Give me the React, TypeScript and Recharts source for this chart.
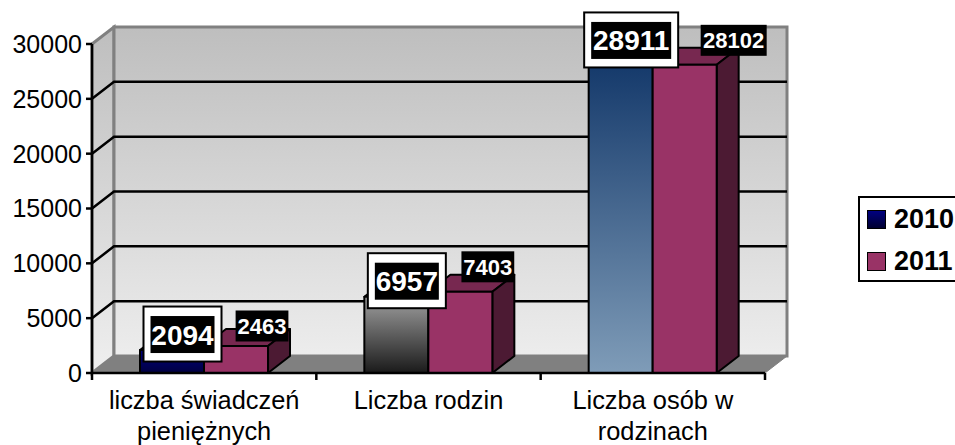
import React from 'react';
import { BarChart, Bar, XAxis, YAxis, ReferenceArea, LabelList, Legend } from 'recharts';

const categories = ['liczba świadczeń pieniężnych', 'Liczba rodzin', 'Liczba osób w rodzinach'];
const values2010 = [2094, 6957, 28911];
const values2011 = [2463, 7403, 28102];
const yTicks = [0, 5000, 10000, 15000, 20000, 25000, 30000];
const gridValues = [5000, 10000, 15000, 20000, 25000];

const chartData = categories.map((name, i) => ({ name, y2010: values2010[i], y2011: values2011[i] }));

const FONT = '"Liberation Sans", Arial, sans-serif';
const DX = 22;
const DY = 17;

// 3D look: every bar gets a front face, a top face and a side face
const make3dBar = (front: (i: number) => string, top: string, side: string) => (props: any) => {
  const { x, y, width, height, index } = props;
  const r = x + width;
  const b = y + height;
  return (
    <g stroke="#000" strokeWidth={2} strokeLinejoin="round">
      <polygon points={`${x},${y} ${x + DX},${y - DY} ${r + DX},${y - DY} ${r},${y}`} fill={top} />
      <polygon points={`${r},${y} ${r + DX},${y - DY} ${r + DX},${b - DY} ${r},${b}`} fill={side} />
      <rect x={x} y={y} width={width} height={height} fill={front(index)} />
    </g>
  );
};

const bar2010 = make3dBar((i) => `url(#fill2010-${i})`, '#33334d', '#1a1a33');
const bar2011 = make3dBar(() => '#993366', '#772850', '#4c1a33');

// box-in-box label for 2010, plain black tag for 2011
const label2010 = (props: any) => {
  const { x, y, width, value } = props;
  const cx = x + width / 2 + 10.5;
  const cy = y - 15.5;
  const text = String(value);
  const w = text.length * 16;
  return (
    <g>
      <rect x={cx - w / 2 - 7} y={cy - 28} width={w + 14} height={55} fill="#fff" stroke="#000" strokeWidth={2} />
      <rect x={cx - w / 2} y={cy - 18.5} width={w} height={37} fill="#000" />
      <text x={cx} y={cy + 10} textAnchor="middle" fontFamily={FONT} fontWeight="bold" fontSize={28} fill="#fff">
        {text}
      </text>
    </g>
  );
};

const tagNudge = [
  [26, -20],
  [27.5, -25],
  [49, -24.5],
];

const label2011 = (props: any) => {
  const { x, y, width, value, index } = props;
  const [nx, ny] = tagNudge[index];
  const cx = x + width / 2 + nx;
  const cy = y + ny;
  const text = String(value);
  const w = text.length * 13.2;
  return (
    <g>
      <rect x={cx - w / 2} y={cy - 15.5} width={w} height={31} fill="#000" />
      <text x={cx} y={cy + 8} textAnchor="middle" fontFamily={FONT} fontWeight="bold" fontSize={22} fill="#fff">
        {text}
      </text>
    </g>
  );
};

// back wall, side wall and floor, sized from the plot area
const wallShape = (props: any) => {
  const { x, y, width, height } = props;
  const r = x + width;
  const b = y + height;
  return (
    <g>
      <defs>
        <linearGradient id="wallFill" gradientUnits="userSpaceOnUse" x1="0" y1={y - DY} x2="0" y2={b}>
          <stop offset="0" stopColor="#bebebe" />
          <stop offset="1" stopColor="#efefef" />
        </linearGradient>
        <linearGradient id="fill2010-0" x1="0" y1="0" x2="0" y2="1">
          <stop offset="0" stopColor="#000080" />
          <stop offset="1" stopColor="#000040" />
        </linearGradient>
        <linearGradient id="fill2010-1" x1="0" y1="0" x2="0" y2="1">
          <stop offset="0" stopColor="#a0a0a0" />
          <stop offset="1" stopColor="#1a1a1a" />
        </linearGradient>
        <linearGradient id="fill2010-2" x1="0" y1="0" x2="0" y2="1">
          <stop offset="0" stopColor="#123769" />
          <stop offset="1" stopColor="#7f9cb8" />
        </linearGradient>
      </defs>
      <polygon
        points={`${x},${y} ${x + DX},${y - DY} ${x + DX},${b - DY} ${x},${b}`}
        fill="url(#wallFill)"
        stroke="#808080"
        strokeWidth={3}
      />
      <rect x={x + DX} y={y - DY} width={width} height={height} fill="url(#wallFill)" stroke="#808080" strokeWidth={3} />
      <polygon points={`${x},${b} ${x + DX},${b - DY} ${r + DX},${b - DY} ${r},${b}`} fill="#808080" stroke="#808080" />
    </g>
  );
};

// grid line sits on the top edge of its band, so it stays behind the bars
const gridShape = (props: any) => {
  const { x, y, width } = props;
  return (
    <polyline
      points={`${x},${y} ${x + DX},${y - DY} ${x + width + DX},${y - DY}`}
      fill="none"
      stroke="#000"
      strokeWidth={2.5}
    />
  );
};

const categoryTick = (props: any) => {
  const { x, y, index, payload } = props;
  const half = payload.offset;
  const lines = index === 0 ? ['liczba świadczeń', 'pieniężnych'] : index === 1 ? ['Liczba rodzin'] : ['Liczba osób w', 'rodzinach'];
  return (
    <g>
      <line x1={x - half} y1={y - 8} x2={x - half} y2={y - 1} stroke="#000" strokeWidth={2.5} />
      {index === categories.length - 1 && <line x1={x + half} y1={y - 8} x2={x + half} y2={y - 1} stroke="#000" strokeWidth={2.5} />}
      <text textAnchor="middle" fontFamily={FONT} fontSize={25.4} fill="#000">
        {lines.map((line, i) => (
          <tspan key={line} x={x} y={y + 28 + i * 31}>
            {line}
          </tspan>
        ))}
      </text>
    </g>
  );
};

const legendContent = () => (
  <div
    style={{
      border: '2.5px solid #000',
      width: 110,
      height: 82,
      fontFamily: FONT,
      fontWeight: 'bold',
      fontSize: 27,
      position: 'relative',
      background: '#fff',
    }}
  >
    {['2010', '2011'].map((label, i) => (
      <div key={label} style={{ position: 'absolute', left: 7, top: 10 + i * 42, display: 'flex', alignItems: 'center', height: 22, gap: 8 }}>
        <div
          style={{
            width: 17,
            height: 17,
            border: '1px solid #000',
            background: i === 0 ? 'linear-gradient(#000080, #000030)' : '#993366',
          }}
        />
        {label}
      </div>
    ))}
  </div>
);

export default function App() {
  return (
    <div style={{ position: 'absolute', left: 0, top: 0, width: 955, height: 445, overflow: 'hidden', background: '#fff' }}>
      <BarChart
        width={955}
        height={445}
        data={chartData}
        margin={{ top: 44, right: 80, left: 0, bottom: 0 }}
        barCategoryGap="21.4%"
        barGap={0}
      >
        <ReferenceArea y1={0} y2={30000} shape={wallShape} ifOverflow="visible" />
        {gridValues.map((v) => (
          <ReferenceArea key={v} y1={v - 5000} y2={v} shape={gridShape} ifOverflow="visible" />
        ))}
        <XAxis
          dataKey="name"
          height={72}
          tick={categoryTick}
          tickLine={false}
          axisLine={{ stroke: '#000', strokeWidth: 2.5 }}
          interval={0}
        />
        <YAxis
          width={92}
          domain={[0, 30000]}
          ticks={yTicks}
          tick={{ fontSize: 25, fontFamily: FONT, fill: '#000' }}
          tickSize={6}
          tickMargin={4}
          tickLine={{ stroke: '#000', strokeWidth: 2.5 }}
          axisLine={{ stroke: '#000', strokeWidth: 2.5 }}
          interval={0}
        />
        <Legend layout="vertical" align="right" verticalAlign="top" content={legendContent} wrapperStyle={{ left: 858, top: 196, width: 110 }} />
        <Bar dataKey="y2010" name="2010" shape={bar2010} isAnimationActive={false}>
          <LabelList dataKey="y2010" content={label2010} />
        </Bar>
        <Bar dataKey="y2011" name="2011" shape={bar2011} isAnimationActive={false}>
          <LabelList dataKey="y2011" content={label2011} />
        </Bar>
      </BarChart>
    </div>
  );
}
